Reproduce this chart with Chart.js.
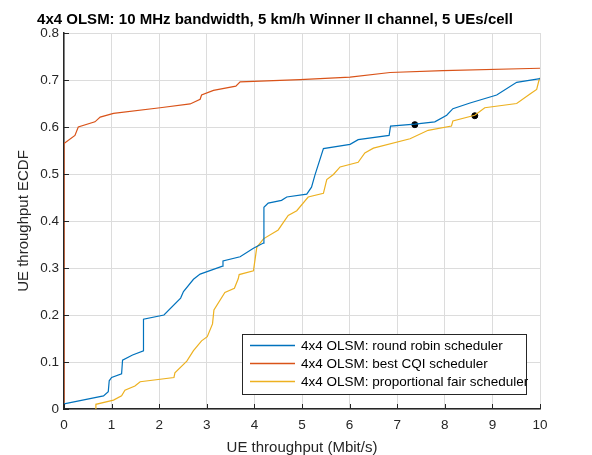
<!DOCTYPE html>
<html>
<head>
<meta charset="utf-8">
<script src="https://cdn.jsdelivr.net/npm/chart.js@4"></script>
<style>
  html, body { margin: 0; padding: 0; background: #fff; }
  canvas { display: block; }
</style>
</head>
<body>
<canvas id="ecdfChart" width="592" height="455"></canvas>
<script>
// ECDF curves
const rrX = [0, 0.83, 0.93, 0.95, 1.00, 1.21, 1.23, 1.44, 1.67, 1.67, 2.10, 2.45, 2.51, 2.72, 2.86, 3.33, 3.34, 3.70, 3.98, 4.19, 4.20, 4.29, 4.57, 4.68, 5.10, 5.20, 5.27, 5.45, 6.01, 6.18, 6.83, 6.86, 7.37, 7.79, 8.04, 8.17, 8.53, 9.09, 9.51, 10];
const rrY = [0.011, 0.028, 0.037, 0.060, 0.067, 0.075, 0.104, 0.115, 0.124, 0.191, 0.200, 0.236, 0.250, 0.276, 0.287, 0.304, 0.315, 0.324, 0.342, 0.353, 0.429, 0.438, 0.444, 0.451, 0.457, 0.472, 0.497, 0.554, 0.563, 0.573, 0.582, 0.602, 0.606, 0.611, 0.625, 0.639, 0.651, 0.668, 0.695, 0.703];

const cqiX = [0, 0, 0.23, 0.30, 0.65, 0.76, 1.04, 2.02, 2.65, 2.86, 2.89, 3.14, 3.61, 3.70, 4.96, 6.01, 6.85, 7.96, 10];
const cqiY = [0, 0.565, 0.582, 0.600, 0.611, 0.621, 0.629, 0.641, 0.649, 0.659, 0.668, 0.678, 0.687, 0.696, 0.701, 0.706, 0.716, 0.720, 0.725];

const pfX = [0.67, 0.67, 1.04, 1.21, 1.28, 1.49, 1.60, 2.31, 2.33, 2.58, 2.72, 2.89, 3.01, 3.12, 3.15, 3.38, 3.58, 3.66, 3.68, 3.98, 4.05, 4.19, 4.50, 4.71, 4.89, 5.13, 5.45, 5.52, 5.66, 5.80, 6.18, 6.32, 6.50, 7.27, 7.65, 8.14, 8.17, 8.63, 8.84, 9.51, 9.79, 9.93, 9.98, 10];
const pfY = [0, 0.010, 0.019, 0.028, 0.040, 0.049, 0.058, 0.067, 0.077, 0.102, 0.124, 0.145, 0.154, 0.181, 0.211, 0.248, 0.257, 0.277, 0.286, 0.294, 0.344, 0.362, 0.381, 0.412, 0.422, 0.451, 0.459, 0.488, 0.499, 0.515, 0.525, 0.545, 0.555, 0.575, 0.593, 0.602, 0.613, 0.625, 0.641, 0.650, 0.670, 0.680, 0.700, 0.705];

// black marker dots
const markX = [7.37, 8.63];
const markY = [0.605, 0.624];

const seriesLabels = ['4x4 OLSM: round robin scheduler', '4x4 OLSM: best CQI scheduler', '4x4 OLSM: proportional fair scheduler'];
const seriesColors = ['#0072BD', '#D95319', '#EDB120'];
const chartTitle = '4x4 OLSM: 10 MHz bandwidth, 5 km/h Winner II channel, 5 UEs/cell';
const xTitle = 'UE throughput (Mbit/s)';
const yTitle = 'UE throughput ECDF';

const FONT = '"Liberation Sans", Arial, sans-serif';
const AXIS_COLOR = '#262626';

function toPoints(xs, ys) {
    return xs.map((x, i) => ({ x: x, y: ys[i] }));
}

function lineSet(label, xs, ys, color) {
    return {
        label: label,
        data: toPoints(xs, ys),
        borderColor: color,
        backgroundColor: color,
        borderWidth: 1.2,
        pointRadius: 0,
        tension: 0,
        fill: false
    };
}

// title, axis titles, inward ticks and the boxed legend, drawn the matlab way
const decorPlugin = {
    id: 'decor',
    afterDraw(chart) {
        const ctx = chart.ctx;
        const area = chart.chartArea;
        const xs = chart.scales.x;
        const ys = chart.scales.y;
        ctx.save();

        // inward ticks
        ctx.strokeStyle = AXIS_COLOR;
        ctx.lineWidth = 1;
        xs.ticks.forEach(t => {
            const px = Math.round(xs.getPixelForValue(t.value)) + 0.5;
            ctx.beginPath();
            ctx.moveTo(px, area.bottom);
            ctx.lineTo(px, area.bottom - 5);
            ctx.stroke();
        });
        ys.ticks.forEach(t => {
            const py = Math.round(ys.getPixelForValue(t.value)) + 0.5;
            ctx.beginPath();
            ctx.moveTo(area.left, py);
            ctx.lineTo(area.left + 5, py);
            ctx.stroke();
        });

        // title
        ctx.fillStyle = '#000';
        ctx.font = 'bold 15px ' + FONT;
        ctx.textAlign = 'center';
        ctx.textBaseline = 'alphabetic';
        ctx.fillText(chartTitle, 275, 23.5);

        // axis titles
        ctx.fillStyle = AXIS_COLOR;
        ctx.font = '15px ' + FONT;
        ctx.fillText(xTitle, (area.left + area.right) / 2, 451.5);
        ctx.save();
        ctx.translate(28, (area.top + area.bottom) / 2);
        ctx.rotate(-Math.PI / 2);
        ctx.fillText(yTitle, 0, 0);
        ctx.restore();

        // legend box
        const lx = 242, ly = 334, lw = 284, lh = 60;
        ctx.fillStyle = '#fff';
        ctx.fillRect(lx, ly, lw, lh);
        ctx.strokeStyle = '#262626';
        ctx.lineWidth = 1;
        ctx.strokeRect(lx + 0.5, ly + 0.5, lw, lh);
        ctx.font = '13.5px ' + FONT;
        ctx.textAlign = 'left';
        ctx.textBaseline = 'middle';
        const rows = [345.5, 363.5, 381.5];
        seriesLabels.forEach((label, i) => {
            ctx.strokeStyle = seriesColors[i];
            ctx.lineWidth = 1.5;
            ctx.beginPath();
            ctx.moveTo(250, rows[i]);
            ctx.lineTo(295, rows[i]);
            ctx.stroke();
            ctx.fillStyle = '#000';
            ctx.fillText(label, 301, rows[i] + 0.5);
        });

        ctx.restore();
    }
};

const ctx = document.getElementById('ecdfChart').getContext('2d');
new Chart(ctx, {
    type: 'line',
    data: {
        datasets: [
            lineSet(seriesLabels[0], rrX, rrY, seriesColors[0]),
            lineSet(seriesLabels[1], cqiX, cqiY, seriesColors[1]),
            lineSet(seriesLabels[2], pfX, pfY, seriesColors[2]),
            {
                label: 'markers',
                type: 'scatter',
                data: toPoints(markX, markY),
                pointRadius: 3,
                pointBackgroundColor: '#000',
                pointBorderColor: '#000',
                showLine: false
            }
        ]
    },
    options: {
        responsive: false,
        animation: false,
        devicePixelRatio: 1,
        layout: { padding: { left: 0, right: 52, top: 33, bottom: 0 } },
        plugins: {
            legend: { display: false },
            title: { display: false },
            tooltip: { enabled: false }
        },
        scales: {
            x: {
                type: 'linear',
                min: 0,
                max: 10,
                ticks: {
                    stepSize: 1,
                    color: AXIS_COLOR,
                    font: { family: FONT, size: 13.5 },
                    padding: 8,
                    maxRotation: 0
                },
                grid: { color: '#dcdcdc', drawTicks: false },
                border: { color: AXIS_COLOR, width: 1.5 },
                afterFit(scale) { scale.height = 46; }
            },
            y: {
                min: 0,
                max: 0.8,
                ticks: {
                    stepSize: 0.1,
                    color: AXIS_COLOR,
                    font: { family: FONT, size: 13.5 },
                    padding: 5
                },
                grid: { color: '#dcdcdc', drawTicks: false },
                border: { color: AXIS_COLOR, width: 1.5 },
                afterFit(scale) { scale.width = 64; }
            }
        }
    },
    plugins: [decorPlugin]
});
</script>
</body>
</html>
